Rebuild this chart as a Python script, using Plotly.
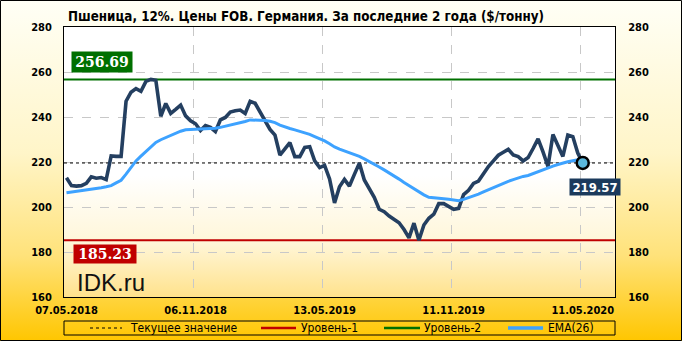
import base64
import plotly.graph_objects as go

# ---------------- data ----------------
title_text = "Пшеница, 12%. Цены FOB. Германия. За последние 2 года ($/тонну)"
tick_idx = [0, 26, 52, 78, 104]
tick_dates = ["07.05.2018", "06.11.2018", "13.05.2019", "11.11.2019", "11.05.2020"]

price = [
    213.0, 209.5, 209.3, 209.5, 210.5, 213.4, 212.8, 213.1, 212.2, 222.7,
    222.5, 222.5, 247.0, 251.0, 252.6, 251.4, 255.8, 256.69, 256.3, 240.3,
    246.0, 241.6, 243.4, 245.3, 240.5, 238.3, 237.0, 234.0, 236.2, 235.4,
    233.5, 238.7, 239.8, 242.2, 242.8, 243.1, 241.6, 247.0, 246.1, 242.4,
    238.5, 234.5, 232.0, 223.1, 225.8, 228.6, 222.4, 222.4, 226.5, 226.8,
    220.5, 217.5, 218.5, 212.5, 201.8, 209.0, 212.3, 209.3, 214.5, 219.5,
    212.0, 208.5, 204.3, 199.0, 197.9, 196.0, 194.6, 193.0, 190.0, 186.3,
    192.8, 185.23, 192.0, 195.0, 196.8, 201.5, 201.5, 200.2, 199.0, 199.4,
    205.5, 207.4, 210.5, 211.5, 215.0, 218.0, 220.5, 223.0, 224.3, 225.6,
    223.1, 222.4, 220.5, 222.0, 226.0, 230.3, 224.5, 218.0, 232.2, 227.0,
    222.5, 232.0, 231.3, 224.0, 219.57,
]
ema26 = [
    206.3, 206.6, 206.9, 207.1, 207.4, 207.7, 208.1, 208.6, 209.0, 209.5,
    210.7, 211.9, 214.6, 217.5, 220.5, 222.6, 224.6, 226.7, 228.7, 229.9,
    230.9, 231.8, 232.8, 233.7, 234.3, 234.4, 234.5, 234.6, 234.7, 234.8,
    235.0, 235.4, 235.9, 236.5, 236.8, 237.2, 238.0, 238.7, 238.7, 238.7,
    238.4, 238.1, 237.5, 236.4, 235.5, 234.9, 234.3, 233.7, 233.1, 232.3,
    231.3, 230.4, 229.4, 228.1, 226.7, 225.7, 224.9, 224.2, 223.5, 222.5,
    221.4, 220.3, 219.1, 217.8, 216.5, 215.2, 213.8, 212.4, 210.9, 209.5,
    208.0, 206.7, 205.4, 204.3, 204.2, 204.0, 203.7, 203.4, 203.1, 202.8,
    203.4, 204.1, 204.7, 205.7, 206.7, 207.7, 208.7, 209.6, 210.5, 211.4,
    212.2, 213.0, 213.6, 214.0, 214.9, 215.7, 216.6, 217.4, 218.2, 218.9,
    219.6, 220.1, 220.6, 221.0, 221.0,
]
level1 = 185.23
level2 = 256.69
current = price[-1]
y_ticks = [160, 180, 200, 220, 240, 260, 280]
legend_names = ["Текущее значение", "Уровень-1", "Уровень-2", "EMA(26)"]

# ---------------- styling ----------------
W, H = 682, 341
L, R, T, B = 64, 615, 27, 297          # plot area in pixels
PW, PH = R - L, B - T

def px(xp):
    return (xp - L) / PW

def py(yp):
    return (B - yp) / PH

FONT = "DejaVu Sans Condensed, DejaVu Sans, sans-serif"
C_PRICE = "#243F60"
C_EMA = "#3DA2FF"
C_L1 = "#C00000"
C_L2 = "#007000"

x = list(range(len(price)))
xr = [-0.5, 110.5]

fig = go.Figure()
fig.add_trace(go.Scatter(x=xr, y=[level2, level2], mode="lines",
                         line=dict(color=C_L2, width=2), hoverinfo="skip"))
fig.add_trace(go.Scatter(x=xr, y=[level1, level1], mode="lines",
                         line=dict(color=C_L1, width=2), hoverinfo="skip"))
fig.add_trace(go.Scatter(x=xr, y=[current, current], mode="lines",
                         line=dict(color="black", width=1, dash="3px,3px"), hoverinfo="skip"))
fig.add_trace(go.Scatter(x=x, y=price, mode="lines",
                         line=dict(color=C_PRICE, width=3.6)))
fig.add_trace(go.Scatter(x=x, y=ema26, mode="lines",
                         line=dict(color=C_EMA, width=3)))
fig.add_trace(go.Scatter(x=[x[-1]], y=[current], mode="markers",
                         marker=dict(size=12, color="#5BB8DC",
                                     line=dict(color="black", width=2.5))))
fig.add_trace(go.Scatter(x=[0], y=[200], yaxis="y2", mode="lines",
                         opacity=0, hoverinfo="skip"))

# background gradients (svg)
svg = f"""<svg xmlns='http://www.w3.org/2000/svg' width='{W}' height='{H}'>
<defs>
<linearGradient id='g1' x1='0' y1='0' x2='0' y2='1'>
<stop offset='0' stop-color='#FFFFF6'/>
<stop offset='0.45' stop-color='#FFF5C8'/>
<stop offset='0.75' stop-color='#FFE27A'/>
<stop offset='1' stop-color='#FFC600'/>
</linearGradient>
<linearGradient id='g2' x1='0' y1='0' x2='0' y2='1'>
<stop offset='0' stop-color='#FFFFFF'/>
<stop offset='0.55' stop-color='#FFFFFF'/>
<stop offset='0.8' stop-color='#FFF6D8'/>
<stop offset='1' stop-color='#FFE28C'/>
</linearGradient>
</defs>
<rect x='0' y='0' width='{W}' height='{H}' fill='url(#g1)'/>
<rect x='{L}' y='{T}' width='{PW}' height='{PH}' fill='url(#g2)'/>
</svg>"""
src = "data:image/svg+xml;base64," + base64.b64encode(svg.encode("utf-8")).decode()

annotations = [
    dict(text=title_text, xref="paper", yref="paper", x=px(66), y=py(16),
         xanchor="left", yanchor="middle", showarrow=False,
         font=dict(family=FONT, size=13.3, color="black", weight="bold")),
    dict(text=f"{level2:.2f}", xref="paper", yref="paper", x=px(102), y=py(62),
         xanchor="center", yanchor="middle", showarrow=False, bgcolor=C_L2,
         width=56, height=16, borderpad=2,
         font=dict(family="DejaVu Serif, Liberation Serif, serif", size=14,
                   color="white", weight="bold")),
    dict(text=f"{level1:.2f}", xref="paper", yref="paper", x=px(105), y=py(253.5),
         xanchor="center", yanchor="middle", showarrow=False, bgcolor=C_L1,
         width=58, height=14, borderpad=2,
         font=dict(family="DejaVu Serif, Liberation Serif, serif", size=14,
                   color="white", weight="bold")),
    dict(text=f"{current:.2f}", xref="paper", yref="paper", x=px(594.5), y=py(187),
         xanchor="center", yanchor="middle", showarrow=False, bgcolor="#1B3A5C",
         width=48, height=14, borderpad=1,
         font=dict(family=FONT, size=13, color="white", weight="bold")),
    dict(text="IDK.ru", xref="paper", yref="paper", x=px(75), y=py(282),
         xanchor="left", yanchor="middle", showarrow=False,
         font=dict(family="Liberation Sans, Arial, sans-serif", size=24, color="#111111")),
]
leg_y = py(328)
leg_text_x = [128, 299, 422, 546]
for name, lx in zip(legend_names, leg_text_x):
    annotations.append(dict(text=name, xref="paper", yref="paper", x=px(lx), y=leg_y,
                            xanchor="left", yanchor="middle", showarrow=False,
                            font=dict(family=FONT, size=12, color="black")))

shapes = [
    dict(type="rect", xref="paper", yref="paper", x0=0, x1=1, y0=py(335), y1=py(321),
         line=dict(color="black", width=1), fillcolor="rgba(0,0,0,0)"),
    dict(type="line", xref="paper", yref="paper", x0=px(90), x1=px(122), y0=leg_y, y1=leg_y,
         line=dict(color="black", width=1, dash="3px,3px")),
    dict(type="line", xref="paper", yref="paper", x0=px(261), x1=px(296), y0=leg_y, y1=leg_y,
         line=dict(color=C_L1, width=2.5)),
    dict(type="line", xref="paper", yref="paper", x0=px(384), x1=px(420), y0=leg_y, y1=leg_y,
         line=dict(color=C_L2, width=2.5)),
    dict(type="line", xref="paper", yref="paper", x0=px(508), x1=px(543), y0=leg_y, y1=leg_y,
         line=dict(color=C_EMA, width=3.5)),
    dict(type="rect", xref="paper", yref="paper", x0=px(0.5), x1=px(W - 0.5),
         y0=py(H - 0.5), y1=py(0.5), line=dict(color="black", width=1),
         fillcolor="rgba(0,0,0,0)"),
]

tickfont = dict(family=FONT, size=11, color="black", weight="bold")
fig.update_layout(
    width=W, height=H,
    margin=dict(l=L, r=W - R, t=T, b=H - B, pad=0),
    paper_bgcolor="white", plot_bgcolor="rgba(0,0,0,0)",
    showlegend=False,
    images=[dict(source=src, xref="paper", yref="paper", x=px(0), y=py(0),
                 sizex=W / PW, sizey=H / PH, xanchor="left", yanchor="top",
                 sizing="stretch", layer="below")],
    xaxis=dict(range=xr, tickmode="array", tickvals=tick_idx, ticktext=tick_dates,
               showgrid=False, zeroline=False, ticks="outside", ticklen=3,
               tickcolor="rgba(0,0,0,0)", tickfont=tickfont,
               showline=True, mirror=True, linecolor="black", linewidth=1,
               minor=dict(tickmode="array", tickvals=[25.5, 51.5, 77.5, 103.5],
                          showgrid=True, gridcolor="#C8C8C8", griddash="dash",
                          gridwidth=1, ticks="")),
    yaxis=dict(range=[160, 280], tickmode="array", tickvals=y_ticks,
               showgrid=True, gridcolor="#C8C8C8", griddash="dash", gridwidth=1,
               zeroline=False, ticks="outside", ticklen=9,
               tickcolor="rgba(0,0,0,0)", tickfont=tickfont,
               showline=True, mirror=True, linecolor="black", linewidth=1),
    yaxis2=dict(range=[160, 280], tickmode="array", tickvals=y_ticks,
                overlaying="y", side="right", showgrid=False, zeroline=False,
                ticks="outside", ticklen=10, tickcolor="rgba(0,0,0,0)",
                tickfont=tickfont, showline=False),
    annotations=annotations,
    shapes=shapes,
)

fig.write_html("out.html")
